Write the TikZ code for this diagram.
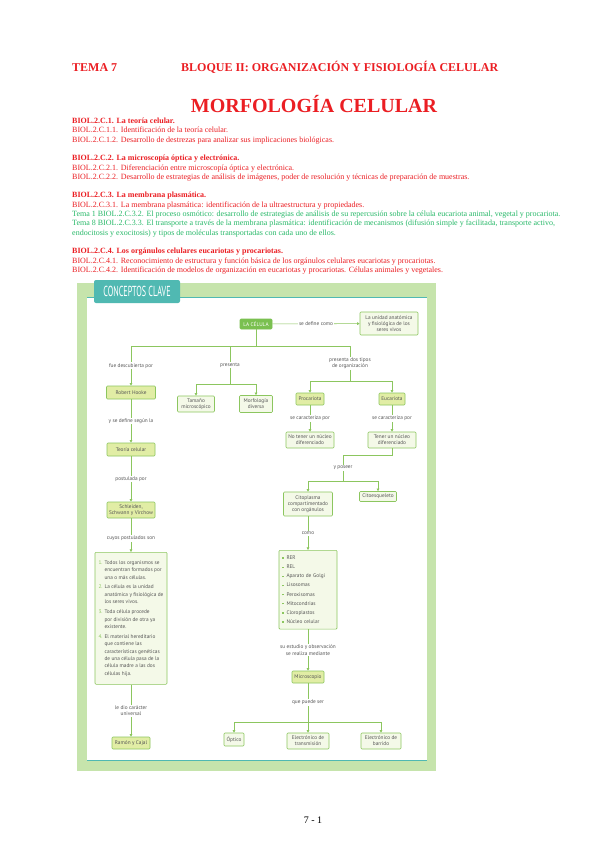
\documentclass[tikz,border=0pt]{standalone}
\usepackage{fontspec}
\setmainfont{Liberation Serif}
\newfontfamily\mapsans{PT Sans}
\usepackage{graphicx}
\usepackage{xcolor}
\usetikzlibrary{arrows.meta,positioning,calc}

\definecolor{hdrred}{RGB}{235,30,35}
\definecolor{temagreen}{RGB}{40,185,105}
\definecolor{mapline}{RGB}{140,198,95}
\definecolor{framegreen}{RGB}{198,228,172}
\definecolor{tabteal}{RGB}{80,185,178}
\definecolor{boxlight}{RGB}{244,249,232}
\definecolor{boxkey}{RGB}{225,237,165}
\definecolor{cellgreen}{RGB}{122,192,80}
\definecolor{maptext}{RGB}{85,85,85}

\newcommand{\mapfont}{\mapsans\fontsize{5.3}{6.2}\selectfont}
\newcommand{\objfont}{\fontsize{8}{9}\selectfont}
\newcommand{\postnum}[1]{\textcolor{mapline}{#1}}
\newcommand{\organbullet}{\raisebox{0.7pt}{\textcolor{mapline}{\rule{1.5pt}{1.5pt}}}}

\begin{document}
\begin{tikzpicture}[
  x=1pt, y=-1pt,
  hdr/.style={anchor=base west, font=\bfseries\fontsize{12}{14}\selectfont, text=hdrred, inner sep=0pt},
  obj/.style={anchor=base west, font=\objfont, text=hdrred, inner sep=0pt},
  objb/.style={obj, font=\objfont\bfseries},
  tema/.style={obj, text=temagreen},
  box/.style={rectangle, rounded corners=1pt, draw=mapline, fill=boxlight, line width=0.6pt, align=center, font=\mapfont, text=maptext, inner sep=1.5pt},
  keybox/.style={box, fill=boxkey},
  lbl/.style={fill=white, font=\mapfont, text=maptext, align=center, inner sep=1pt},
  link/.style={draw=mapline, line width=0.6pt},
  arrow/.style={link, -{Triangle[length=2.6pt,width=2.6pt]}}
]
  \fill[white] (0,0) rectangle (599,848);
  \useasboundingbox (0,0) rectangle (599,848);

  % cabecera
  \node[hdr] (tema) at (72,72) {TEMA 7};
  \node[hdr] (bloque) at (181,72) {BLOQUE II: ORGANIZACIÓN Y FISIOLOGÍA CELULAR};
  \node[font=\bfseries\fontsize{20}{24}\selectfont, text=hdrred, anchor=base, inner sep=0pt] (titulo) at (314,113) {MORFOLOGÍA CELULAR};

  % criterios
  \node[objb] (c1) at (72,123.5) {BIOL.2.C.1. La teoría celular.};
  \node[obj] (c11) at (72,132.8) {BIOL.2.C.1.1. Identificación de la teoría celular.};
  \node[obj] (c12) at (72,142.1) {BIOL.2.C.1.2. Desarrollo de destrezas para analizar sus implicaciones biológicas.};
  \node[objb] (c2) at (72,160.7) {BIOL.2.C.2. La microscopía óptica y electrónica.};
  \node[obj] (c21) at (72,170) {BIOL.2.C.2.1. Diferenciación entre microscopía óptica y electrónica.};
  \node[obj] (c22) at (72,179.3) {BIOL.2.C.2.2. Desarrollo de estrategias de análisis de imágenes, poder de resolución y técnicas de preparación de muestras.};
  \node[objb] (c3) at (72,197.9) {BIOL.2.C.3. La membrana plasmática.};
  \node[obj] (c31) at (72,207.2) {BIOL.2.C.3.1. La membrana plasmática: identificación de la ultraestructura y propiedades.};
  \node[tema] (c32) at (72,216.5) {Tema 1 BIOL.2.C.3.2. El proceso osmótico: desarrollo de estrategias de análisis de su repercusión sobre la célula eucariota animal, vegetal y procariota.};
  \node[tema] (c33) at (72,225.8) {Tema 8 BIOL.2.C.3.3. El transporte a través de la membrana plasmática: identificación de mecanismos (difusión simple y facilitada, transporte activo,};
  \node[tema] (c33b) at (72,235.1) {endocitosis y exocitosis) y tipos de moléculas transportadas con cada uno de ellos.};
  \node[objb] (c4) at (72,253.7) {BIOL.2.C.4. Los orgánulos celulares eucariotas y procariotas.};
  \node[obj] (c41) at (72,263) {BIOL.2.C.4.1. Reconocimiento de estructura y función básica de los orgánulos celulares eucariotas y procariotas.};
  \node[obj] (c42) at (72,272.3) {BIOL.2.C.4.2. Identificación de modelos de organización en eucariotas y procariotas. Células animales y vegetales.};

  % marco del mapa
  \fill[framegreen] (77,283) rectangle (436,771);
  \fill[white] (87,297) rectangle (427,760);
  \draw[tabteal, line width=0.8pt] (87,297) -- (427,297);
  \draw[tabteal, line width=1pt] (87,760) -- (427,760);
  \node[fill=tabteal, rounded corners=2pt, minimum width=86pt, minimum height=23pt, inner sep=0pt] (clave) at (137,291.5)
    {\scalebox{0.56}[1]{\mapsans\fontsize{14.5}{14.5}\selectfont\color{white}CONCEPTOS CLAVE}};

  % conceptos
  \node[box, fill=cellgreen, draw=cellgreen, text=white, minimum width=32pt, minimum height=10pt] (celula) at (256,324) {LA CÉLULA};
  \node[box, minimum width=58pt, minimum height=23pt] (unidad) at (389,323.5) {La unidad anatómica\\y fisiológica de los\\seres vivos};

  \node[keybox, minimum width=49pt, minimum height=13pt] (hooke) at (131,392.5) {Robert Hooke};
  \node[keybox, minimum width=48pt, minimum height=13pt] (teoria) at (131,449.5) {Teoría celular};
  \node[keybox, minimum width=48pt, minimum height=16pt] (schleiden) at (131,510) {Schleiden,\\Schwann y Virchow};
  \node[box, minimum width=72pt, minimum height=132pt, anchor=north] (postulados) at (131,552) {%
    \fontsize{5.3}{7.4}\selectfont
    \begin{tabular}{@{}l@{\hspace{2pt}}l@{}}
      \postnum{1.} & Todos los organismos se\\
                   & encuentran formados por\\
                   & una o más células.\\[2.5pt]
      \postnum{2.} & La célula es la unidad\\
                   & anatómica y fisiológica de\\
                   & los seres vivos.\\[2.5pt]
      \postnum{3.} & Toda célula procede\\
                   & por división de otra ya\\
                   & existente.\\[2.5pt]
      \postnum{4.} & El material hereditario\\
                   & que contiene las\\
                   & características genéticas\\
                   & de una célula pasa de la\\
                   & célula madre a las dos\\
                   & células hija.
    \end{tabular}};
  \node[keybox, minimum width=38pt, minimum height=12pt] (cajal) at (131,743) {Ramón y Cajal};

  \node[box, minimum width=37pt, minimum height=16pt] (tamano) at (196,404) {Tamaño\\microscópico};
  \node[box, minimum width=33pt, minimum height=17pt] (morfologia) at (256,404) {Morfología\\diversa};

  \node[keybox, minimum width=28pt, minimum height=12pt] (procariota) at (310,399) {Procariota};
  \node[keybox, minimum width=26pt, minimum height=12pt] (eucariota) at (392,399) {Eucariota};
  \node[box, minimum width=48pt, minimum height=16pt] (notener) at (310,440) {No tener un núcleo\\diferenciado};
  \node[box, minimum width=48pt, minimum height=16pt] (tener) at (392,440) {Tener un núcleo\\diferenciado};
  \node[box, minimum width=49pt, minimum height=24pt] (citoplasma) at (308,504) {Citoplasma\\compartimentado\\con orgánulos};
  \node[box, minimum width=37pt, minimum height=10pt] (citoesqueleto) at (378,496.5) {Citoesqueleto};
  \node[box, text width=52pt, align=left, inner sep=3pt, minimum height=73pt, anchor=north] (organulos) at (308,550) {%
    \fontsize{5.3}{9.1}\selectfont
    \begin{tabular}{@{}l@{\hspace{3pt}}l@{}}
      \organbullet & RER\\
      \organbullet & REL\\
      \organbullet & Aparato de Golgi\\
      \organbullet & Lisosomas\\
      \organbullet & Peroxisomas\\
      \organbullet & Mitocondrias\\
      \organbullet & Cloroplastos\\
      \organbullet & Núcleo celular
    \end{tabular}};
  \node[keybox, minimum width=32pt, minimum height=12pt] (microscopio) at (308,677) {Microscopio};
  \node[box, minimum width=20pt, minimum height=13pt] (optico) at (234,739.5) {Óptico};
  \node[box, minimum width=42pt, minimum height=16pt] (transmision) at (308,741) {Electrónico de\\transmisión};
  \node[box, minimum width=40pt, minimum height=16pt] (barrido) at (381,741) {Electrónico de\\barrido};

  % puntos de reparto
  \coordinate (jtop) at (256,346);
  \coordinate (jL) at (131,346);
  \coordinate (jM) at (230,346);
  \coordinate (jR) at (350,346);
  \coordinate (jM2) at (230,384);
  \coordinate (jMa) at (196,384);
  \coordinate (jMb) at (256,384);
  \coordinate (jR2) at (350,381);
  \coordinate (jRa) at (310,381);
  \coordinate (jRb) at (392,381);
  \coordinate (jT1) at (392,455);
  \coordinate (jT2) at (343,455);
  \coordinate (jT3) at (343,481);
  \coordinate (jTa) at (308,481);
  \coordinate (jTb) at (378,481);
  \coordinate (jB) at (308,722);
  \coordinate (jBa) at (234,722);
  \coordinate (jBb) at (381,722);

  % conexiones
  \draw[arrow] (celula) -- node[lbl] {se define como} (unidad);
  \draw[link] (celula) -- (jtop);
  \draw[link] (jL) -- (jR);

  \draw[arrow] (jL) -- node[lbl] {fue descubierta por} (hooke);
  \draw[arrow] (hooke) -- node[lbl] {y se define según la} (teoria);
  \draw[arrow] (teoria) -- node[lbl] {postulada por} (schleiden);
  \draw[arrow] (schleiden) -- node[lbl, pos=0.6] {cuyos postulados son} (postulados);
  \draw[arrow] (postulados) -- node[lbl] {le dio carácter\\universal} (cajal);

  \draw[link] (jM) -- node[lbl] {presenta} (jM2);
  \draw[link] (jMa) -- (jMb);
  \draw[arrow] (jMa) -- (tamano);
  \draw[arrow] (jMb) -- (morfologia);

  \draw[link] (jR) -- node[lbl] {presenta dos tipos\\de organización} (jR2);
  \draw[link] (jRa) -- (jRb);
  \draw[arrow] (jRa) -- (procariota);
  \draw[arrow] (jRb) -- (eucariota);
  \draw[arrow] (procariota) -- node[lbl] {se caracteriza por} (notener);
  \draw[arrow] (eucariota) -- node[lbl] {se caracteriza por} (tener);

  \draw[link] (tener) -- (jT1) -- (jT2) -- node[lbl] {y poseer} (jT3);
  \draw[link] (jTa) -- (jTb);
  \draw[arrow] (jTa) -- (citoplasma);
  \draw[arrow] (jTb) -- (citoesqueleto);
  \draw[arrow] (citoplasma) -- node[lbl] {como} (organulos);
  \draw[arrow] (organulos) -- node[lbl] {su estudio y observación\\se realiza mediante} (microscopio);
  \draw[link] (microscopio) -- node[lbl] {que puede ser} (jB);
  \draw[link] (jBa) -- (jBb);
  \draw[arrow] (jBa) -- (optico);
  \draw[arrow] (jB) -- (transmision);
  \draw[arrow] (jBb) -- (barrido);

  \node[font=\fontsize{10}{12}\selectfont, anchor=base, inner sep=0pt] (pagina) at (313,823) {7 - 1};
\end{tikzpicture}
\end{document}
